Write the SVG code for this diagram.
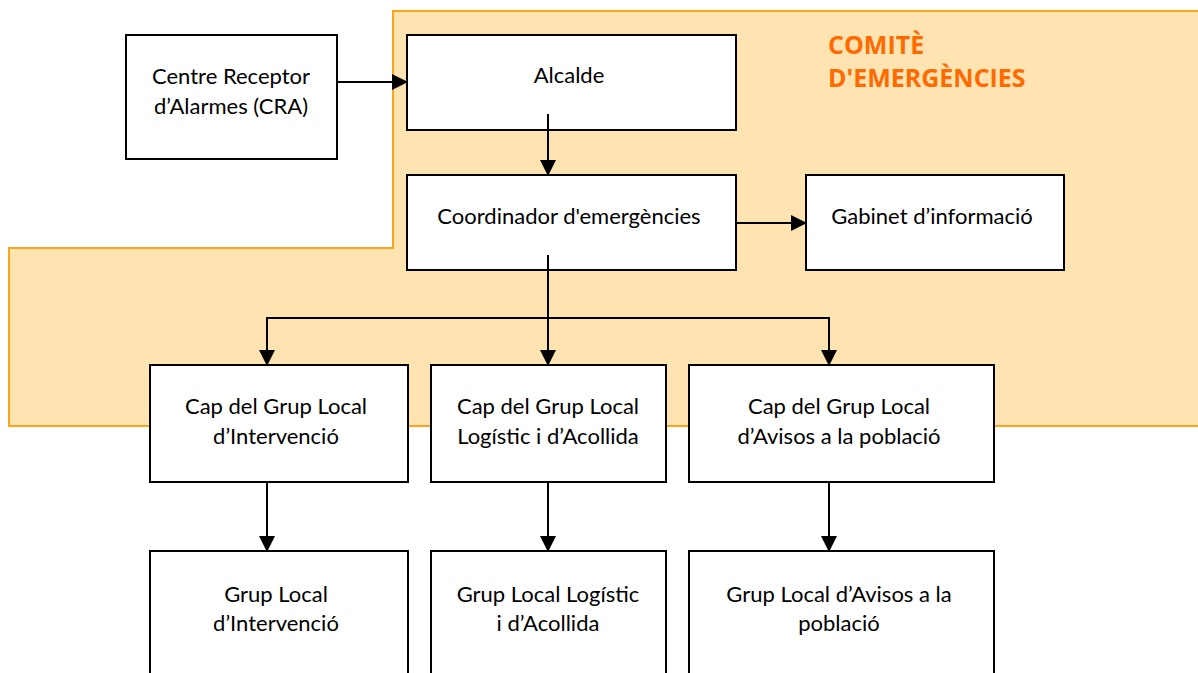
<svg xmlns="http://www.w3.org/2000/svg" width="1198" height="673" viewBox="0 0 1198 673">
<style>
.box{fill:#ffffff;stroke:#000000;stroke-width:2}
.t{font-family:Lato,"Open Sans","Liberation Sans",sans-serif;font-size:22px;fill:#000000;text-anchor:middle}
.c{stroke:#000000;stroke-width:2;fill:none;marker-end:url(#ah)}
.ln{stroke:#000000;stroke-width:2;fill:none}
.title{font-family:"Open Sans","Liberation Sans",sans-serif;font-weight:bold;font-size:25px;fill:#ff6a00}
</style>
<defs>
<marker id="ah" markerWidth="8" markerHeight="8" refX="7" refY="4" orient="auto" markerUnits="strokeWidth">
<path d="M0,0 L8,4 L0,8 Z" fill="#000000"/>
</marker>
</defs>
<rect width="1198" height="673" fill="#ffffff"/>
<g id="comite">
<path d="M1200,11 L393,11 L393,248 L9,248 L9,426 L1200,426" fill="#ffe4b1" stroke="#ffa31a" stroke-width="2"/>
<text class="title" x="828" y="54">COMITÈ</text>
<text class="title" x="828" y="87">D'EMERGÈNCIES</text>
</g>
<g id="cra">
<rect class="box" x="126" y="35" width="211" height="124"/>
<text class="t" x="231" y="84">Centre Receptor</text>
<text class="t" x="231" y="114">d’Alarmes (CRA)</text>
</g>
<g id="alcalde">
<rect class="box" x="407" y="35" width="329" height="95"/>
<text class="t" x="569" y="83">Alcalde</text>
</g>
<g id="coordinador">
<rect class="box" x="407" y="175" width="329" height="95"/>
<text class="t" x="569" y="224">Coordinador d'emergències</text>
</g>
<g id="gabinet">
<rect class="box" x="806" y="175" width="258" height="95"/>
<text class="t" x="932" y="224">Gabinet d’informació</text>
</g>
<g id="cap-intervencio">
<rect class="box" x="150" y="365" width="258" height="117"/>
<text class="t" x="276" y="414">Cap del Grup Local</text>
<text class="t" x="276" y="444">d’Intervenció</text>
</g>
<g id="cap-logistic">
<rect class="box" x="431" y="365" width="235" height="117"/>
<text class="t" x="548" y="414">Cap del Grup Local</text>
<text class="t" x="548" y="444">Logístic i d’Acollida</text>
</g>
<g id="cap-avisos">
<rect class="box" x="689" y="365" width="305" height="117"/>
<text class="t" x="839" y="414">Cap del Grup Local</text>
<text class="t" x="839" y="444">d’Avisos a la població</text>
</g>
<g id="grup-intervencio">
<rect class="box" x="150" y="551" width="258" height="140"/>
<text class="t" x="276" y="602">Grup Local</text>
<text class="t" x="276" y="631">d’Intervenció</text>
</g>
<g id="grup-logistic">
<rect class="box" x="431" y="551" width="235" height="140"/>
<text class="t" x="548" y="602">Grup Local Logístic</text>
<text class="t" x="548" y="631">i d’Acollida</text>
</g>
<g id="grup-avisos">
<rect class="box" x="689" y="551" width="305" height="140"/>
<text class="t" x="839" y="602">Grup Local d’Avisos a la</text>
<text class="t" x="839" y="631">població</text>
</g>
<g id="connectors">
<line class="c" x1="338" y1="82" x2="406" y2="82"/>
<line class="c" x1="548" y1="114" x2="548" y2="174"/>
<line class="c" x1="737" y1="223" x2="805" y2="223"/>
<line class="ln" x1="548" y1="255" x2="548" y2="318"/>
<polyline class="ln" points="267,334 267,318 829,318 829,334"/>
<line class="c" x1="267" y1="318" x2="267" y2="364"/>
<line class="c" x1="548" y1="318" x2="548" y2="364"/>
<line class="c" x1="829" y1="318" x2="829" y2="364"/>
<line class="c" x1="267" y1="483" x2="267" y2="550"/>
<line class="c" x1="548" y1="483" x2="548" y2="550"/>
<line class="c" x1="829" y1="483" x2="829" y2="550"/>
</g>
</svg>
